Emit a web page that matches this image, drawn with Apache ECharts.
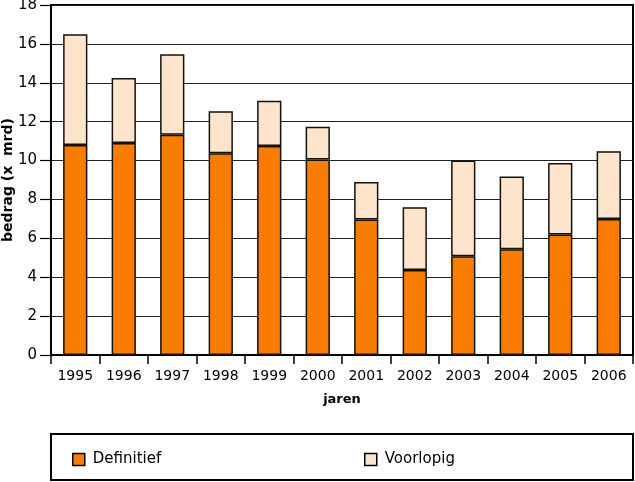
<!DOCTYPE html>
<html>
<head>
<meta charset="utf-8">
<script src="https://cdn.jsdelivr.net/npm/echarts@6/dist/echarts.min.js"></script>
<style>html,body{margin:0;padding:0;background:#fff}#c{width:635px;height:482px}</style>
</head>
<body>
<div id="c"></div>
<script>
var years = ['1995','1996','1997','1998','1999','2000','2001','2002','2003','2004','2005','2006'];
var definitief = [10.8, 10.9, 11.33, 10.38, 10.75, 10.05, 6.97, 4.37, 5.08, 5.44, 6.2, 7.0];
var totaal = [16.5, 14.25, 15.47, 12.53, 13.08, 11.74, 8.9, 7.6, 10.0, 9.18, 9.88, 10.48];
var voorlopig = totaal.map(function(t, i){ return +(t - definitief[i]).toFixed(2); });
var yTicks = [0, 2, 4, 6, 8, 10, 12, 14, 16, 18];

var FONT = 'DejaVu Sans';
var chart = echarts.init(document.getElementById('c'), null, {renderer: 'canvas'});
chart.setOption({
  animation: false,
  backgroundColor: '#fff',
  textStyle: {fontFamily: FONT},
  grid: {left: 51, right: 2, top: 5, bottom: 127, show: true, borderColor: '#000', borderWidth: 2, backgroundColor: 'transparent', containLabel: false, outerBoundsMode: 'none'},
  xAxis: {
    type: 'category',
    data: years,
    name: 'jaren',
    nameLocation: 'middle',
    nameGap: 38,
    nameMoveOverlap: false,
    nameTextStyle: {fontFamily: FONT, fontWeight: 'bold', fontSize: 13, color: '#000'},
    axisLine: {lineStyle: {color: '#000', width: 2}},
    axisTick: {show: true, length: 9, lineStyle: {color: '#000', width: 1.5}},
    axisLabel: {fontFamily: FONT, fontSize: 14, color: '#000', margin: 14},
    splitLine: {show: false}
  },
  yAxis: {
    type: 'value',
    min: yTicks[0],
    max: yTicks[yTicks.length - 1],
    interval: 2,
    name: 'bedrag (x  mrd)',
    nameLocation: 'middle',
    nameGap: 36,
    nameRotate: 90,
    nameMoveOverlap: false,
    nameTextStyle: {fontFamily: FONT, fontWeight: 'bold', fontSize: 14, color: '#000'},
    axisLine: {show: true, lineStyle: {color: '#000', width: 2}},
    axisTick: {show: true, length: 11, lineStyle: {color: '#000', width: 1.2}},
    axisLabel: {fontFamily: FONT, fontSize: 15, color: '#000', margin: 14},
    splitLine: {show: true, lineStyle: {color: '#222', width: 1.2}}
  },
  legend: [
    {
      left: 67, top: 447,
      itemWidth: 12, itemHeight: 12,
      icon: 'rect',
      data: ['Definitief'],
      itemStyle: {borderColor: '#000', borderWidth: 1.5},
      textStyle: {fontFamily: FONT, fontSize: 15, color: '#000', padding: [0, 0, 0, 3]}
    },
    {
      left: 359, top: 447,
      itemWidth: 12, itemHeight: 12,
      icon: 'rect',
      data: ['Voorlopig'],
      itemStyle: {borderColor: '#000', borderWidth: 1.5},
      textStyle: {fontFamily: FONT, fontSize: 15, color: '#000', padding: [0, 0, 0, 3]}
    }
  ],
  graphic: [
    {type: 'rect', shape: {x: 51, y: 434, width: 582, height: 46}, style: {fill: 'none', stroke: '#000', lineWidth: 2}, z: -1}
  ],
  series: [
    {
      name: 'Definitief', type: 'bar', stack: 'a', barWidth: '50%',
      data: definitief,
      itemStyle: {color: '#FA7D00', borderColor: '#111', borderWidth: 1.5}
    },
    {
      name: 'Voorlopig', type: 'bar', stack: 'a', barWidth: '50%',
      data: voorlopig,
      itemStyle: {color: '#FFE4CC', borderColor: '#111', borderWidth: 1.5}
    }
  ]
});
</script>
</body>
</html>
